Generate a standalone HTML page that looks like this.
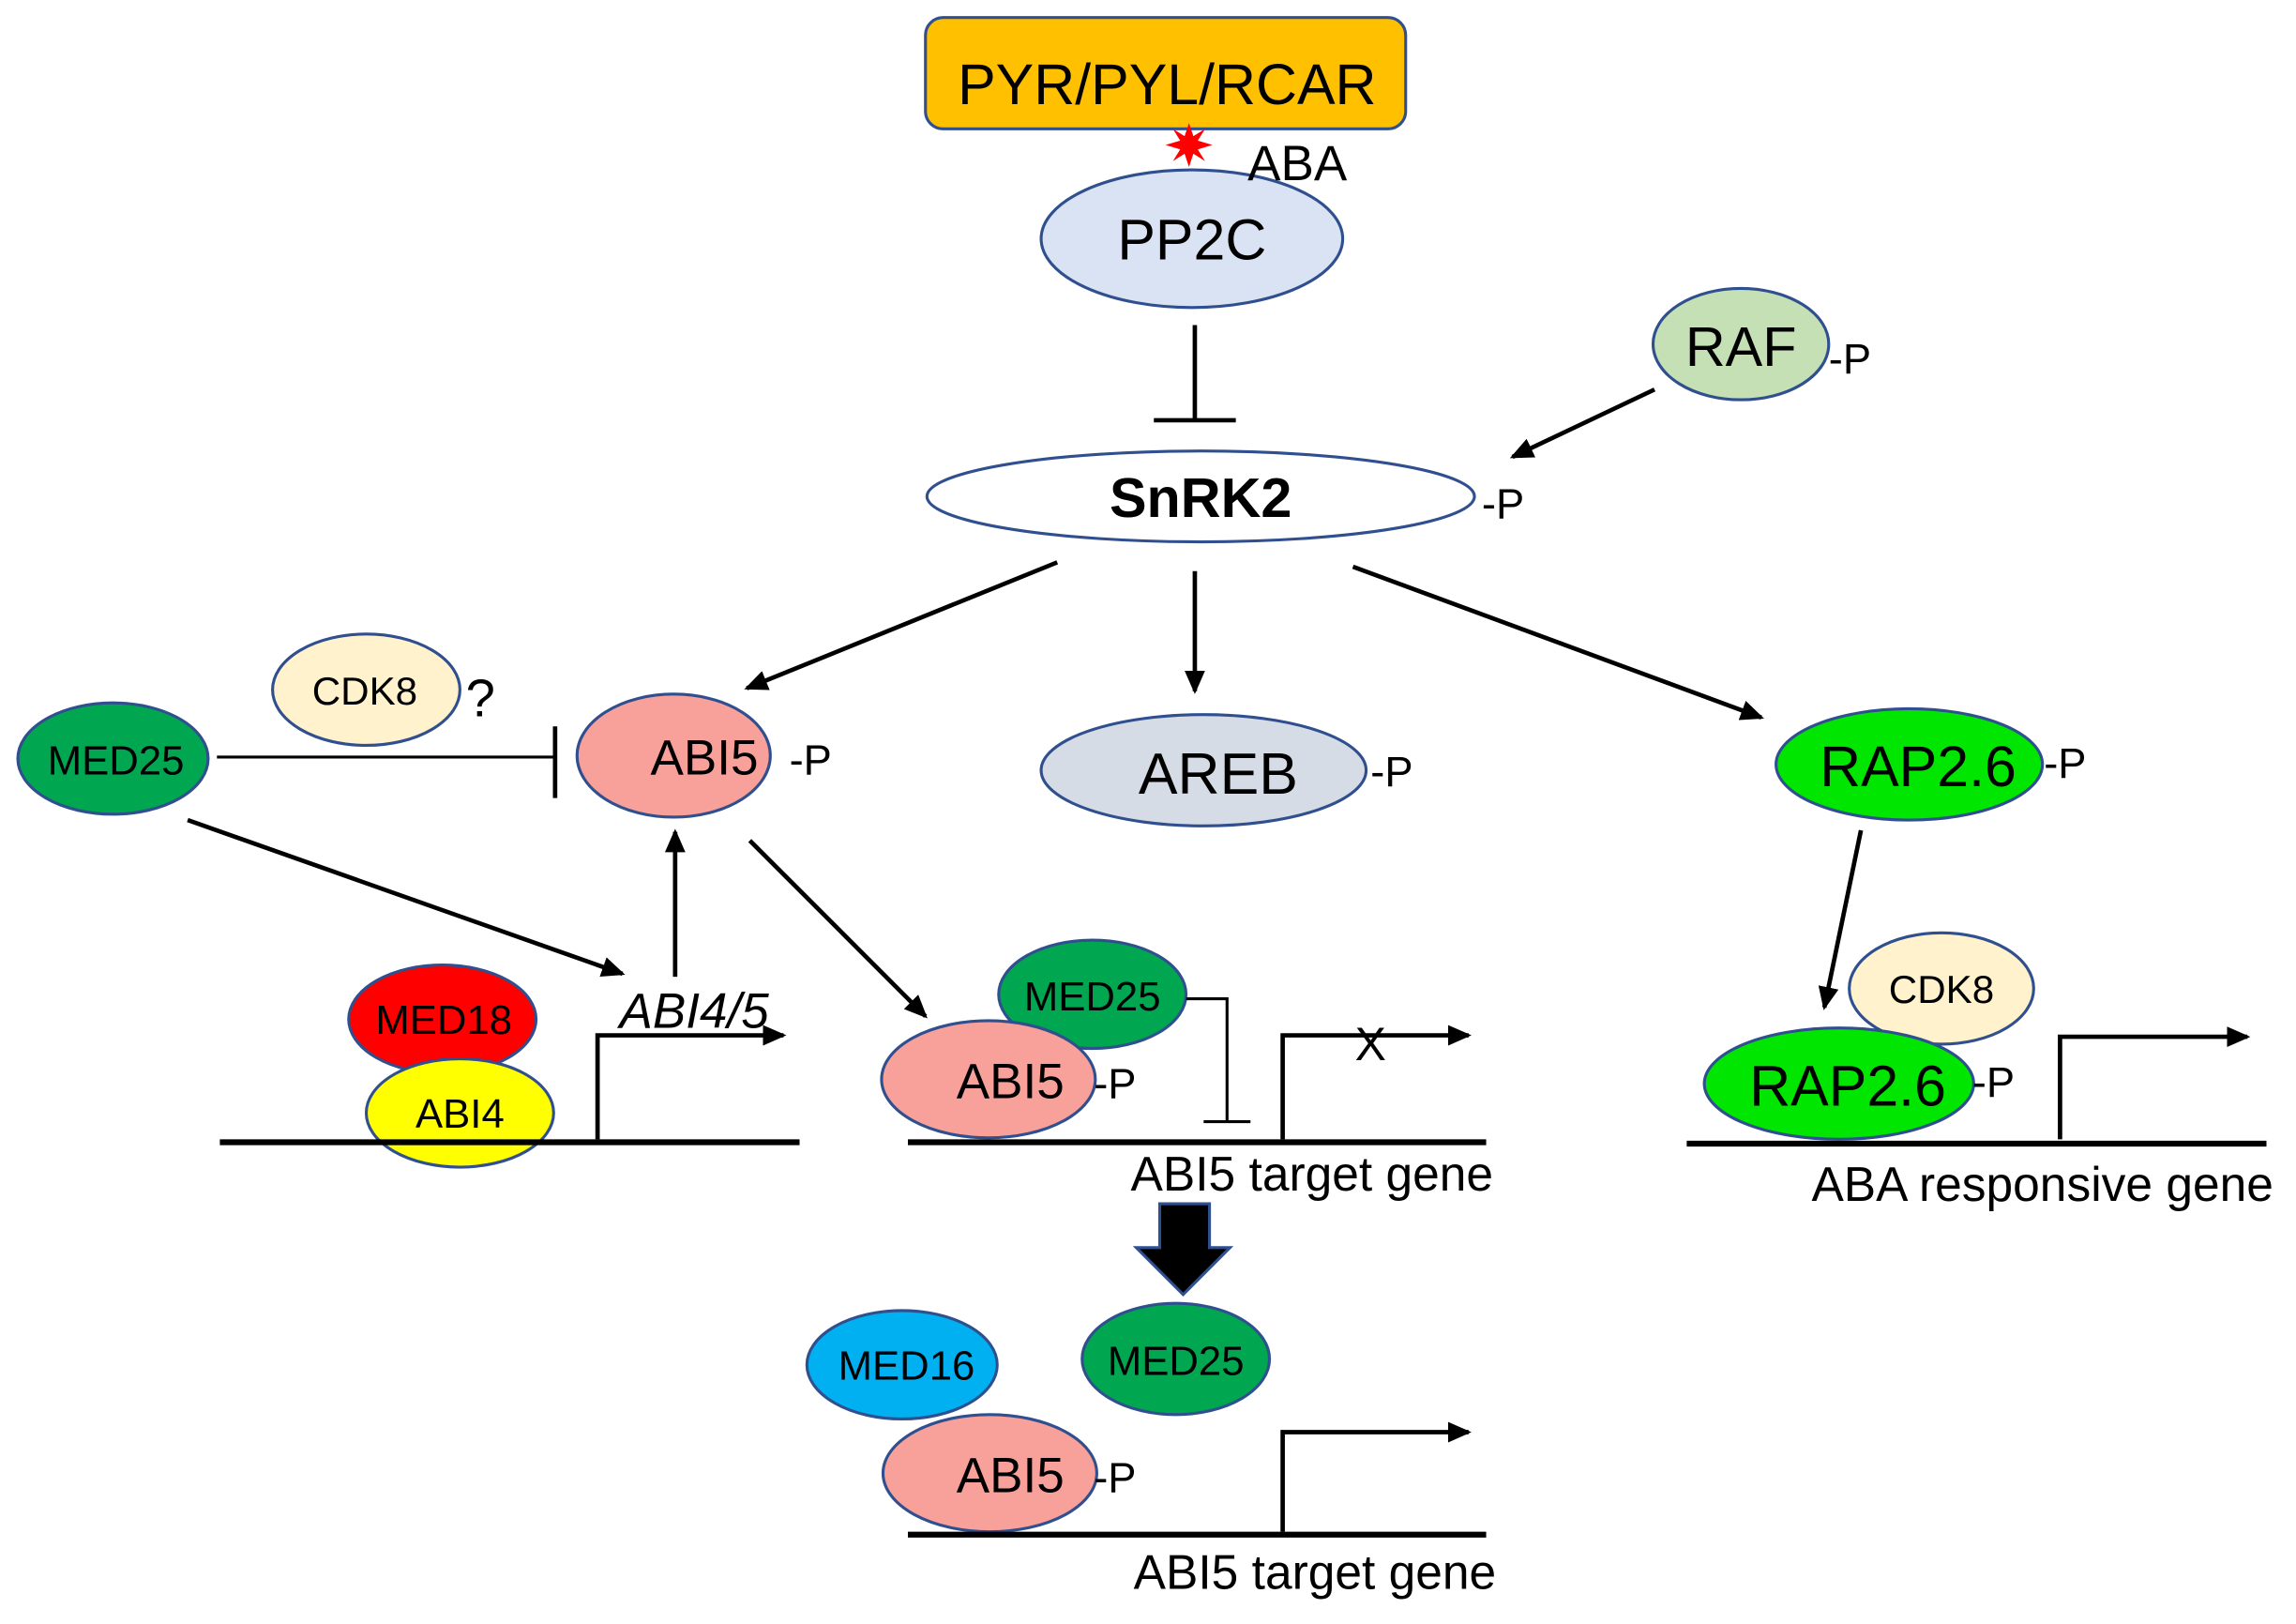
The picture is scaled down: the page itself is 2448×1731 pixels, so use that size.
<!DOCTYPE html>
<html><head><meta charset="utf-8"><style>html,body{margin:0;padding:0;background:#fff}svg{display:block}</style></head>
<body>
<svg width="2448" height="1731" viewBox="0 0 1568 1109" xmlns="http://www.w3.org/2000/svg" font-family="Liberation Sans, Arial, sans-serif">
<defs>
<marker id="ah2" markerWidth="16" markerHeight="14" refX="14" refY="7" orient="auto" markerUnits="userSpaceOnUse" viewBox="0 0 16 14">
<path d="M0,0 L16,7 L0,14 z" fill="#000"/></marker>
</defs>
<rect width="1568" height="1109" fill="#fff"/>
<g stroke="#2F4F8F" stroke-width="2">
<rect x="632" y="12" width="328" height="76" rx="12" fill="#FFC000"/>
<ellipse cx="814" cy="163" rx="103" ry="47" fill="#DAE3F3"/>
<ellipse cx="1189" cy="235" rx="60" ry="38" fill="#C5E0B4"/>
<ellipse cx="820" cy="339" rx="187" ry="31" fill="#fff"/>
<ellipse cx="250" cy="471" rx="64" ry="38" fill="#FFF2CC"/>
<ellipse cx="77" cy="518" rx="65" ry="38" fill="#00A650"/>
<ellipse cx="460" cy="516" rx="66" ry="42" fill="#F8A09A"/>
<ellipse cx="822" cy="526" rx="111" ry="38" fill="#D6DCE5"/>
<ellipse cx="1304" cy="522" rx="91" ry="38" fill="#00E600"/>
<ellipse cx="302" cy="696" rx="64" ry="37" fill="#FF0000"/>
<ellipse cx="314" cy="760" rx="64" ry="37" fill="#FFFF00"/>
<ellipse cx="746" cy="679" rx="64" ry="37" fill="#00A650"/>
<ellipse cx="675" cy="737" rx="73" ry="40" fill="#F8A09A"/>
<ellipse cx="616" cy="932" rx="65" ry="37" fill="#00B0F0"/>
<ellipse cx="803" cy="928" rx="64" ry="38" fill="#00A650"/>
<ellipse cx="676" cy="1006" rx="73" ry="40" fill="#F8A09A"/>
<ellipse cx="1326" cy="675" rx="63" ry="38" fill="#FFF2CC"/>
<ellipse cx="1256" cy="740" rx="92" ry="38" fill="#00E600"/>
<path d="M792,822 H826 V852 H840 L808,884 L776,852 H792 Z" fill="#000"/>
</g>
<polygon points="812,84 815,93 823,88 818,96 828,99 818,102 823,110 815,105 812,114 809,105 801,110 806,102 796,99 806,96 801,88 809,93" fill="#FF0000"/>
<g stroke="#000" stroke-width="3" fill="none">
<line x1="816" y1="222" x2="816" y2="287"/><line x1="788" y1="287" x2="844" y2="287"/>
<line x1="1130" y1="266" x2="1033" y2="312" marker-end="url(#ah2)"/>
<line x1="722" y1="384" x2="510" y2="470" marker-end="url(#ah2)"/>
<line x1="816" y1="390" x2="816" y2="472" marker-end="url(#ah2)"/>
<line x1="924" y1="387" x2="1203" y2="490" marker-end="url(#ah2)"/>
<line x1="148" y1="517" x2="379" y2="517" stroke-width="2"/><line x1="379" y1="496" x2="379" y2="545"/>
<line x1="128" y1="560" x2="425" y2="665" marker-end="url(#ah2)"/>
<line x1="461" y1="667" x2="461" y2="568" marker-end="url(#ah2)"/>
<line x1="512" y1="574" x2="632" y2="694" marker-end="url(#ah2)"/>
<line x1="1271" y1="567" x2="1246" y2="688" marker-end="url(#ah2)"/>
<line x1="150" y1="780" x2="546" y2="780" stroke-width="4"/>
<path d="M408,778 V707 H535" marker-end="url(#ah2)"/>
<path d="M810,682 H838 V766" stroke-width="2"/><line x1="822" y1="766" x2="854" y2="766" stroke-width="2"/>
<line x1="620" y1="780" x2="1015" y2="780" stroke-width="4"/>
<path d="M876,778 V707 H1003" marker-end="url(#ah2)"/>
<line x1="620" y1="1048" x2="1015" y2="1048" stroke-width="4"/>
<path d="M876,1046 V978 H1003" marker-end="url(#ah2)"/>
<line x1="1152" y1="781" x2="1548" y2="781" stroke-width="4"/>
<path d="M1407,778 V708 H1535" marker-end="url(#ah2)"/>
</g>
<g fill="#000" text-anchor="middle">
<text x="797" y="71" font-size="39">PYR/PYL/RCAR</text>
<text x="886" y="123" font-size="34">ABA</text>
<text x="814" y="177" font-size="39">PP2C</text>
<text x="1189" y="250" font-size="38">RAF</text>
<text x="820" y="353" font-size="38" font-weight="bold">SnRK2</text>
<text x="249" y="481" font-size="27">CDK8</text>
<text x="328" y="489" font-size="36">?</text>
<text x="79" y="529" font-size="28">MED25</text>
<text x="481" y="529" font-size="34">ABI5</text>
<text x="832" y="542" font-size="40">AREB</text>
<text x="1310" y="537" font-size="39">RAP2.6</text>
<text x="474" y="702" font-size="34" font-style="italic">ABI4/5</text>
<text x="303" y="706" font-size="28">MED18</text>
<text x="314" y="770" font-size="28">ABI4</text>
<text x="746" y="690" font-size="28">MED25</text>
<text x="690" y="750" font-size="34">ABI5</text>
<text x="936" y="724" font-size="32">X</text>
<text x="896" y="813" font-size="33">ABI5 target gene</text>
<text x="619" y="942" font-size="28">MED16</text>
<text x="803" y="939" font-size="28">MED25</text>
<text x="690" y="1019" font-size="34">ABI5</text>
<text x="898" y="1085" font-size="33">ABI5 target gene</text>
<text x="1326" y="685" font-size="27">CDK8</text>
<text x="1262" y="755" font-size="39">RAP2.6</text>
<text x="1395" y="820" font-size="33">ABA responsive gene</text>
</g>
<g fill="#000" font-size="29">
<text x="1249" y="255">-P</text>
<text x="1012" y="354">-P</text>
<text x="539" y="529">-P</text>
<text x="936" y="537">-P</text>
<text x="1396" y="531">-P</text>
<text x="747" y="750">-P</text>
<text x="747" y="1019">-P</text>
<text x="1347" y="749">-P</text>
</g>
</svg>
</body></html>
